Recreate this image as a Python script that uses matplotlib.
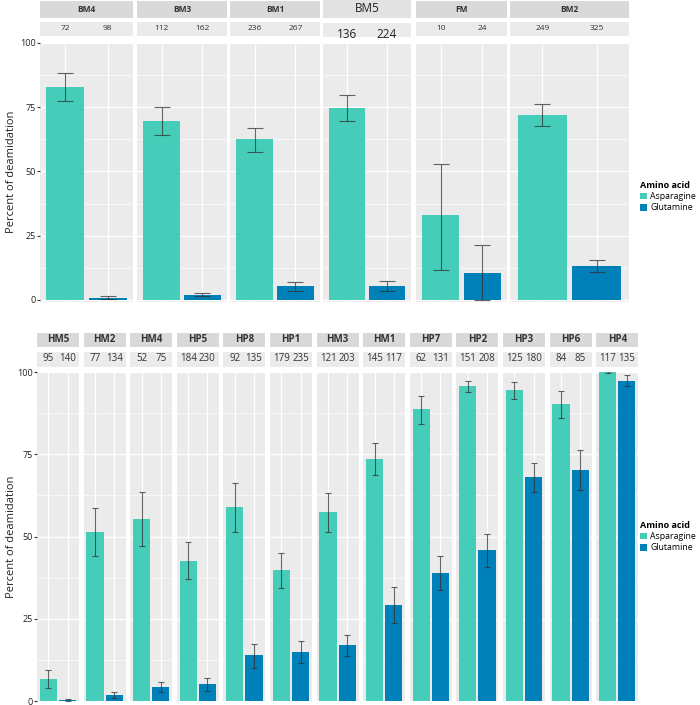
import numpy as np
import matplotlib.pyplot as plt
from matplotlib.patches import Patch

plt.rcParams['font.family'] = ['Open Sans', 'DejaVu Sans']

# ---- data ----
top_sites = ["BM4", "BM3", "BM1", "BM5", "FM", "BM2"]
top_n_asn = [72, 112, 236, 136, 10, 249]
top_n_gln = [98, 162, 267, 224, 24, 325]
top_asn = [83.0, 69.6, 62.5, 74.8, 33.0, 72.1]
top_asn_lo = [77.4, 64.1, 57.7, 69.8, 11.7, 67.6]
top_asn_hi = [88.4, 75.2, 67.1, 79.8, 52.9, 76.4]
top_gln = [0.8, 2.0, 5.3, 5.4, 10.6, 13.3]
top_gln_lo = [0.3, 1.4, 3.4, 3.4, 0.0, 11.0]
top_gln_hi = [1.4, 2.7, 7.1, 7.3, 21.5, 15.6]

bot_sites = ["HM5", "HM2", "HM4", "HP5", "HP8", "HP1", "HM3",
             "HM1", "HP7", "HP2", "HP3", "HP6", "HP4"]
bot_n_asn = [95, 77, 52, 184, 92, 179, 121, 145, 62, 151, 125, 84, 117]
bot_n_gln = [140, 134, 75, 230, 135, 235, 203, 117, 131, 208, 180, 85, 135]
bot_asn = [6.6, 51.4, 55.4, 42.6, 58.9, 39.8, 57.3, 73.5, 88.7, 95.7, 94.4, 90.2, 99.9]
bot_asn_lo = [3.9, 44.0, 47.2, 37.0, 51.5, 34.5, 51.3, 68.6, 84.1, 93.8, 91.8, 86.1, 99.6]
bot_asn_hi = [9.3, 58.8, 63.5, 48.3, 66.3, 44.9, 63.2, 78.3, 92.7, 97.4, 97.1, 94.1, 100.2]
bot_gln = [0.3, 1.7, 4.3, 5.1, 13.9, 15.0, 16.9, 29.2, 39.0, 45.9, 68.0, 70.2, 97.3]
bot_gln_lo = [0.15, 0.8, 2.6, 3.0, 9.9, 11.7, 13.6, 23.8, 33.6, 40.8, 63.4, 64.0, 95.6]
bot_gln_hi = [0.5, 2.6, 5.9, 7.0, 17.4, 18.2, 20.2, 34.6, 44.0, 50.7, 72.3, 76.2, 99.0]

ASN_COL = "#45CDB9"
GLN_COL = "#0080B9"
PANEL_BG = "#EBEBEB"
STRIP_BG = "#D9D9D9"
COUNT_BG = "#EBEBEB"

W, H = 700, 705
fig = plt.figure(figsize=(W / 100, H / 100), dpi=100)


def px_axes(x1, y1, x2, y2, **kw):
    return fig.add_axes([x1 / W, 1 - y2 / H, (x2 - x1) / W, (y2 - y1) / H], **kw)


def draw_facet(x1, x2, py1, py2, ylo, name, n1, n2, asn, gln, errs, cap,
               strips, first, name_fs, count_fs, special=False):
    ax = px_axes(x1, py1, x2, py2)
    ax.set_facecolor(PANEL_BG)
    ax.set_xlim(0.4, 2.6)
    ax.set_ylim(ylo, 100)
    ax.set_yticks([0, 25, 50, 75, 100])
    ax.set_yticks([12.5, 37.5, 62.5, 87.5], minor=True)
    ax.set_xticks([1, 2])
    ax.grid(which='major', color='white', lw=0.9)
    ax.grid(which='minor', axis='y', color='white', lw=0.45)
    ax.set_axisbelow(True)
    for s in ax.spines.values():
        s.set_visible(False)
    ax.bar([1, 2], [asn, gln], width=0.9, color=[ASN_COL, GLN_COL])
    lo = [asn - errs[0], gln - errs[2]]
    hi = [errs[1] - asn, errs[3] - gln]
    ax.errorbar([1, 2], [asn, gln], yerr=[lo, hi], fmt='none',
                ecolor='#333333', alpha=0.75, elinewidth=0.8, capsize=cap,
                capthick=0.8, clip_on=True)
    ax.tick_params(axis='x', length=0, labelbottom=False)
    ax.tick_params(axis='y', which='minor', length=0)
    if first:
        ax.tick_params(axis='y', which='major', length=2.5, width=0.8,
                       color='#333333', labelsize=6.5, pad=0.5,
                       labelcolor='#222222')
    else:
        ax.tick_params(axis='y', length=0, labelleft=False)

    # strips
    (ny1, ny2), (cy1, cy2) = strips
    sa = px_axes(x1, ny1, x2, ny2)
    sa.set_facecolor("#E2E2E2" if special else STRIP_BG)
    sa.set_xticks([]); sa.set_yticks([])
    for s in sa.spines.values():
        s.set_visible(False)
    sa.text(0.5, 0.5, name, ha='center', va='center', transform=sa.transAxes,
            fontsize=name_fs, fontweight='normal' if special else 'bold',
            color='#222222' if special else '#333333')
    ca = px_axes(x1, cy1, x2, cy2)
    ca.set_facecolor(COUNT_BG)
    ca.set_xlim(0.4, 2.6); ca.set_ylim(0, 1)
    ca.set_xticks([]); ca.set_yticks([])
    for s in ca.spines.values():
        s.set_visible(False)
    ty = 0.2 if special else 0.55
    for xx, nn in zip([1, 2], [n1, n2]):
        ca.text(xx, ty, str(nn), ha='center', va='center', fontsize=count_fs,
                color='#222222' if special else '#333333')
    return ax


# ---- top panel ----
top_edges = [(40, 133), (137, 227), (230, 320), (323, 411), (416, 507), (510, 629)]
for i, site in enumerate(top_sites):
    x1, x2 = top_edges[i]
    special = site == "BM5"
    strips = ((0, 18), (23, 37)) if special else ((1, 18), (22, 36))
    draw_facet(x1, x2, 43, 302, -0.8, site, top_n_asn[i], top_n_gln[i],
               top_asn[i], top_gln[i],
               (top_asn_lo[i], top_asn_hi[i], top_gln_lo[i], top_gln_hi[i]),
               5.5, strips, i == 0,
               8.5 if special else 6.0, 8.5 if special else 6.0, special)

# ---- bottom panel ----
bw, bg = 42, 4.6
for i, site in enumerate(bot_sites):
    x1 = 37 + i * (bw + bg)
    draw_facet(x1, x1 + bw, 372, 702, -0.3, site, bot_n_asn[i], bot_n_gln[i],
               bot_asn[i], bot_gln[i],
               (bot_asn_lo[i], bot_asn_hi[i], bot_gln_lo[i], bot_gln_hi[i]),
               2.0, ((333, 347), (352, 367)), i == 0, 7.0, 7.0)

fig.text(12 / W, 1 - 172 / H, "Percent of deamidation", rotation=90,
         ha='center', va='center', fontsize=8, color='#222222')
fig.text(12 / W, 1 - 537 / H, "Percent of deamidation", rotation=90,
         ha='center', va='center', fontsize=8, color='#222222')

handles = [Patch(facecolor=ASN_COL), Patch(facecolor=GLN_COL)]
for ytop in (181, 521):
    fig.legend(handles, ["Asparagine", "Glutamine"], loc='upper left',
               bbox_to_anchor=(640 / W, 1 - ytop / H), frameon=False,
               title="Amino acid", fontsize=6.3, alignment='left',
               title_fontproperties={'weight': 'bold', 'size': 6.5},
               handlelength=0.8, handleheight=0.8, handletextpad=0.35,
               labelspacing=0.25, borderaxespad=0, borderpad=0)

fig.savefig("out.png", dpi=100)
